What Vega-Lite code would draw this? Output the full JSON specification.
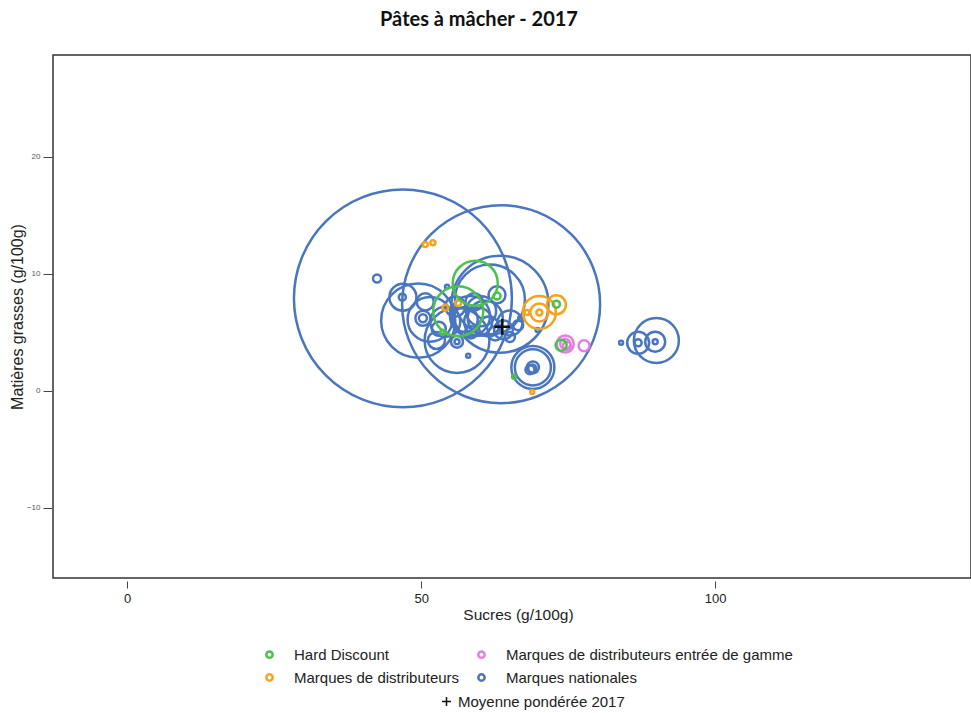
{
  "$schema": "https://vega.github.io/schema/vega-lite/v6.json",
  "width": 918,
  "height": 523,
  "autosize": {"type": "none"},
  "padding": {"left": 53, "top": 55, "right": 0, "bottom": 135},
  "background": "white",
  "title": {"text": "Pâtes à mâcher - 2017", "font": "Lato", "fontSize": 20, "fontWeight": "bold", "color": "#111", "dx": -33, "offset": 25},
  "datasets": {
    "pts": [
      {"sucres": 46.9, "mg": 7.9, "volume": 475, "segment": "Marques nationales"},
      {"sucres": 63.6, "mg": 7.4, "volume": 392, "segment": "Marques nationales"},
      {"sucres": 63.4, "mg": 7.4, "volume": 94, "segment": "Marques nationales"},
      {"sucres": 61.7, "mg": 7.8, "volume": 49, "segment": "Marques nationales"},
      {"sucres": 49.5, "mg": 6.0, "volume": 55, "segment": "Marques nationales"},
      {"sucres": 56.1, "mg": 4.3, "volume": 42, "segment": "Marques nationales"},
      {"sucres": 51.5, "mg": 6.1, "volume": 20, "segment": "Marques nationales"},
      {"sucres": 46.9, "mg": 8.0, "volume": 7.3, "segment": "Marques nationales"},
      {"sucres": 46.8, "mg": 8.0, "volume": 0.5, "segment": "Marques nationales"},
      {"sucres": 42.5, "mg": 9.6, "volume": 0.64, "segment": "Marques nationales"},
      {"sucres": 50.7, "mg": 7.6, "volume": 2.9, "segment": "Marques nationales"},
      {"sucres": 50.3, "mg": 6.2, "volume": 2.25, "segment": "Marques nationales"},
      {"sucres": 50.3, "mg": 6.2, "volume": 0.64, "segment": "Marques nationales"},
      {"sucres": 52.6, "mg": 4.3, "volume": 2.9, "segment": "Marques nationales"},
      {"sucres": 56.1, "mg": 4.2, "volume": 1.44, "segment": "Marques nationales"},
      {"sucres": 56.1, "mg": 4.2, "volume": 0.25, "segment": "Marques nationales"},
      {"sucres": 58.0, "mg": 3.0, "volume": 0.16, "segment": "Marques nationales"},
      {"sucres": 54.4, "mg": 8.9, "volume": 0.16, "segment": "Marques nationales"},
      {"sucres": 58.3, "mg": 6.4, "volume": 16, "segment": "Marques nationales"},
      {"sucres": 60.9, "mg": 6.2, "volume": 12.25, "segment": "Marques nationales"},
      {"sucres": 59.7, "mg": 5.9, "volume": 7.84, "segment": "Marques nationales"},
      {"sucres": 57.5, "mg": 6.1, "volume": 6.25, "segment": "Marques nationales"},
      {"sucres": 54.1, "mg": 5.9, "volume": 9, "segment": "Marques nationales"},
      {"sucres": 62.9, "mg": 8.2, "volume": 2.9, "segment": "Marques nationales"},
      {"sucres": 65.1, "mg": 5.8, "volume": 6.25, "segment": "Marques nationales"},
      {"sucres": 66.5, "mg": 5.6, "volume": 1, "segment": "Marques nationales"},
      {"sucres": 67.0, "mg": 6.2, "volume": 0.36, "segment": "Marques nationales"},
      {"sucres": 65.1, "mg": 4.6, "volume": 1, "segment": "Marques nationales"},
      {"sucres": 69.0, "mg": 2.0, "volume": 18.5, "segment": "Marques nationales"},
      {"sucres": 69.0, "mg": 2.0, "volume": 13, "segment": "Marques nationales"},
      {"sucres": 69.0, "mg": 2.0, "volume": 1.44, "segment": "Marques nationales"},
      {"sucres": 68.9, "mg": 1.9, "volume": 0.64, "segment": "Marques nationales"},
      {"sucres": 68.5, "mg": 1.8, "volume": 0.8, "segment": "Marques nationales"},
      {"sucres": 69.8, "mg": 5.2, "volume": 0.16, "segment": "Marques nationales"},
      {"sucres": 90.0, "mg": 4.3, "volume": 20.25, "segment": "Marques nationales"},
      {"sucres": 86.9, "mg": 4.1, "volume": 4.84, "segment": "Marques nationales"},
      {"sucres": 89.8, "mg": 4.2, "volume": 4, "segment": "Marques nationales"},
      {"sucres": 86.9, "mg": 4.1, "volume": 0.5, "segment": "Marques nationales"},
      {"sucres": 89.8, "mg": 4.2, "volume": 0.25, "segment": "Marques nationales"},
      {"sucres": 84.0, "mg": 4.1, "volume": 0.16, "segment": "Marques nationales"},
      {"sucres": 55.8, "mg": 7.2, "volume": 4, "segment": "Marques nationales"},
      {"sucres": 59.0, "mg": 7.6, "volume": 3, "segment": "Marques nationales"},
      {"sucres": 61.5, "mg": 5.5, "volume": 4, "segment": "Marques nationales"},
      {"sucres": 53.0, "mg": 5.3, "volume": 2, "segment": "Marques nationales"},
      {"sucres": 62.6, "mg": 4.9, "volume": 2, "segment": "Marques nationales"},
      {"sucres": 58.5, "mg": 5.0, "volume": 1.5, "segment": "Marques nationales"},
      {"sucres": 60.2, "mg": 6.8, "volume": 9, "segment": "Marques nationales"},
      {"sucres": 64.0, "mg": 5.2, "volume": 3.5, "segment": "Marques nationales"},
      {"sucres": 70.1, "mg": 6.7, "volume": 10.9, "segment": "Marques de distributeurs"},
      {"sucres": 70.1, "mg": 6.7, "volume": 3.24, "segment": "Marques de distributeurs"},
      {"sucres": 70.1, "mg": 6.7, "volume": 0.36, "segment": "Marques de distributeurs"},
      {"sucres": 73.0, "mg": 7.35, "volume": 3.6, "segment": "Marques de distributeurs"},
      {"sucres": 50.7, "mg": 12.5, "volume": 0.25, "segment": "Marques de distributeurs"},
      {"sucres": 52.0, "mg": 12.65, "volume": 0.25, "segment": "Marques de distributeurs"},
      {"sucres": 54.1, "mg": 7.1, "volume": 0.36, "segment": "Marques de distributeurs"},
      {"sucres": 56.3, "mg": 7.5, "volume": 0.36, "segment": "Marques de distributeurs"},
      {"sucres": 68.0, "mg": 6.7, "volume": 0.25, "segment": "Marques de distributeurs"},
      {"sucres": 68.9, "mg": -0.1, "volume": 0.16, "segment": "Marques de distributeurs"},
      {"sucres": 74.5, "mg": 4.0, "volume": 2.9, "segment": "Marques de distributeurs entrée de gamme"},
      {"sucres": 74.5, "mg": 4.0, "volume": 1, "segment": "Marques de distributeurs entrée de gamme"},
      {"sucres": 77.7, "mg": 3.85, "volume": 1.2, "segment": "Marques de distributeurs entrée de gamme"},
      {"sucres": 74.8, "mg": 3.85, "volume": 0.64, "segment": "Marques de distributeurs entrée de gamme"},
      {"sucres": 59.2, "mg": 9.2, "volume": 20.25, "segment": "Hard Discount"},
      {"sucres": 56.3, "mg": 6.8, "volume": 25, "segment": "Hard Discount"},
      {"sucres": 62.9, "mg": 8.1, "volume": 0.5, "segment": "Hard Discount"},
      {"sucres": 73.0, "mg": 7.4, "volume": 0.5, "segment": "Hard Discount"},
      {"sucres": 73.8, "mg": 3.9, "volume": 1.2, "segment": "Hard Discount"},
      {"sucres": 53.7, "mg": 5.0, "volume": 0.25, "segment": "Hard Discount"},
      {"sucres": 65.8, "mg": 1.2, "volume": 0.16, "segment": "Hard Discount"}
    ],
    "moyenne": [
      {"sucres": 63.8, "mg": 5.47, "serie": "Moyenne pondérée 2017"}
    ]
  },
  "layer": [
    {
      "data": {"name": "pts"},
      "mark": {"type": "point", "shape": "circle", "filled": false, "strokeWidth": 2.5, "opacity": 1},
      "encoding": {
        "x": {"field": "sucres", "type": "quantitative",
          "scale": {"domain": [-12.6, 143.5], "nice": false, "zero": false},
          "axis": {"title": "Sucres (g/100g)", "values": [0, 50, 100], "grid": false, "domain": false, "offset": 3, "tickSize": 7, "tickColor": "#444", "labelFont": "Liberation Sans", "labelFontSize": 13, "labelColor": "#222", "labelPadding": 4, "titleFont": "Liberation Sans", "titleFontSize": 15.5, "titleFontWeight": "normal", "titleColor": "#222", "titlePadding": 2, "titleX": 465}},
        "y": {"field": "mg", "type": "quantitative",
          "scale": {"domain": [-16, 28.7], "nice": false, "zero": false},
          "axis": {"title": "Matières grasses (g/100g)", "values": [-10, 0, 10, 20], "grid": false, "domain": false, "offset": 1, "tickSize": 9, "tickColor": "#444", "labelFont": "Liberation Sans", "labelFontSize": 8, "labelColor": "#555", "labelPadding": 3, "titleFont": "Liberation Sans", "titleFontSize": 16, "titleFontWeight": "normal", "titleColor": "#222", "titlePadding": 1}},
        "size": {"field": "volume", "type": "quantitative", "scale": {"type": "linear", "domain": [0, 500], "range": [0, 50000], "zero": true}, "legend": null},
        "color": {"field": "segment", "type": "nominal",
          "scale": {"domain": ["Hard Discount", "Marques de distributeurs", "Marques de distributeurs entrée de gamme", "Marques nationales"], "range": ["#4cc14c", "#f7a21b", "#e37fe3", "#4a76bf"]},
          "legend": {"title": null, "orient": "none", "legendX": 209, "legendY": 592, "columns": 2, "symbolType": "circle", "symbolSize": 40, "symbolStrokeWidth": 2.5, "symbolFillColor": "white", "labelFont": "Liberation Sans", "labelFontSize": 15, "labelColor": "#222", "labelOffset": 17, "labelLimit": 500, "rowPadding": 6, "columnPadding": 13, "padding": 0}}
      }
    },
    {
      "data": {"name": "moyenne"},
      "mark": {"type": "point", "filled": false, "strokeWidth": 2.5, "color": "#111", "opacity": 1, "size": 250},
      "encoding": {
        "x": {"field": "sucres", "type": "quantitative"},
        "y": {"field": "mg", "type": "quantitative"},
        "shape": {"field": "serie", "type": "nominal", "scale": {"range": ["M-1,0L1,0M0,-1L0,1"]},
          "legend": {"title": null, "orient": "none", "legendX": 386, "legendY": 639, "symbolSize": 80, "symbolStrokeWidth": 1.5, "symbolStrokeColor": "#111", "labelFont": "Liberation Sans", "labelFontSize": 15, "labelColor": "#222", "labelOffset": 4, "labelLimit": 500, "padding": 0}}
      }
    }
  ],
  "config": {
    "view": {"stroke": "#333", "strokeWidth": 1.5}
  }
}
